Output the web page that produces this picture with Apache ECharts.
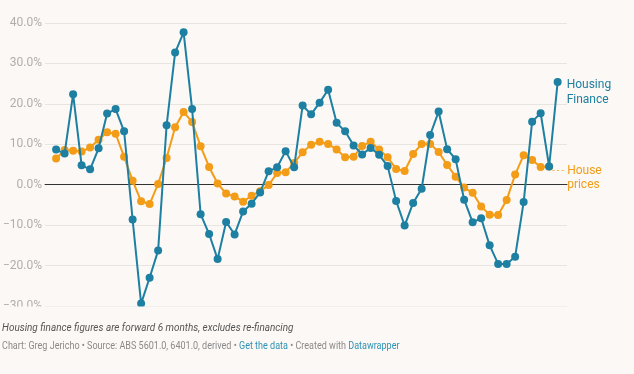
<!DOCTYPE html>
<html>
<head>
<meta charset="utf-8">
<script src="https://cdn.jsdelivr.net/npm/echarts@6/dist/echarts.min.js"></script>
<style>
html,body{margin:0;padding:0;background:#fcf8f5;}
#c{width:634px;height:374px;}
</style>
</head>
<body>
<div id="c"></div>
<script>
// Housing finance (teal), % change, 60 periods
const housingFinance = [
  8.7, 7.7, 22.4, 4.8, 3.8, 9.0, 17.6, 18.7, 13.2, -8.6,
  -29.4, -23.0, -16.3, 14.7, 32.7, 37.7, 18.7, -7.3, -12.2, -18.4,
  -9.2, -12.3, -6.6, -4.7, -1.9, 3.3, 4.3, 8.3, 4.3, 19.6,
  17.4, 20.3, 23.5, 15.3, 13.2, 9.7, 7.5, 9.1, 7.4, 4.6,
  -4.0, -10.1, -4.5, -1.0, 12.3, 18.1, 8.8, 6.3, -3.7, -9.3,
  -8.3, -15.0, -19.6, -19.6, -17.8, -4.3, 15.6, 17.7, 4.5, 25.4
];
// House prices (orange), % change, 59 periods
const housePrices = [
  6.5, 8.6, 8.4, 8.2, 9.2, 11.1, 13.0, 12.6, 6.9, 1.0,
  -4.1, -4.8, 0.2, 6.6, 14.2, 18.0, 15.5, 9.5, 4.4, 0.3,
  -2.2, -2.9, -4.2, -2.7, -1.6, -0.1, 2.9, 3.1, 5.4, 8.0,
  9.9, 10.6, 10.1, 8.7, 6.8, 6.9, 9.6, 10.6, 8.7, 6.8,
  3.9, 3.4, 7.6, 10.1, 10.1, 8.1, 4.9, 2.0, -0.7, -2.0,
  -5.4, -7.4, -7.5, -3.8, 2.5, 7.3, 6.1, 4.4, 4.5
];
const yTicks = [-30, -20, -10, 0, 10, 20, 30, 40];
const seriesNames = ['Housing\nFinance', 'House\nprices'];
const footNote = 'Housing finance figures are forward 6 months, excludes re-financing';
const creditParts = ['Chart: Greg Jericho • Source: ABS 5601.0, 6401.0, derived • ', 'Get the data', ' • Created with ', 'Datawrapper'];

const TEAL = '#1d7fa1';
const ORANGE = '#f39c17';
const BG = '#fcf8f5';

const toPairs = arr => arr.map((v, i) => [i, v]);
const priceLabel = seriesNames[1].split('\n');

const chart = echarts.init(document.getElementById('c'), null, {renderer: 'canvas'});
chart.setOption({
  backgroundColor: BG,
  animation: false,
  grid: {left: 44, right: 67, top: 23, bottom: 68, containLabel: false},
  xAxis: {
    type: 'value',
    min: -1.3,
    max: 60.1,
    axisLine: {show: true, onZero: true, lineStyle: {color: '#333', width: 1}},
    axisTick: {show: false},
    axisLabel: {show: false},
    splitLine: {show: false}
  },
  yAxis: {
    type: 'value',
    min: yTicks[0],
    max: yTicks[yTicks.length - 1],
    interval: 10,
    axisLine: {show: false},
    axisTick: {show: false},
    axisLabel: {
      margin: 3,
      color: '#b0aeac',
      fontFamily: 'Roboto',
      fontSize: 12,
      formatter: v => (v < 0 ? '\u2212' + Math.abs(v).toFixed(1) : v.toFixed(1)) + '%'
    },
    splitLine: {lineStyle: {color: '#e8e4e0', width: 1}}
  },
  series: [
    {
      name: 'House prices',
      type: 'line',
      data: toPairs(housePrices),
      symbol: 'circle',
      symbolSize: 8,
      lineStyle: {color: ORANGE, width: 2},
      itemStyle: {color: ORANGE},
      z: 2,
      endLabel: {
        show: true,
        distance: 3,
        offset: [0, 11],
        formatter: '{d|- - - }{t|' + priceLabel[0] + '}\n{s|}{t|' + priceLabel[1] + '}',
        rich: {
          d: {color: ORANGE, fontSize: 9, width: 15, fontFamily: 'Roboto'},
          s: {width: 15},
          t: {color: ORANGE, fontSize: 12, fontFamily: 'Roboto', lineHeight: 14}
        }
      }
    },
    {
      name: 'Housing Finance',
      type: 'line',
      data: toPairs(housingFinance),
      symbol: 'circle',
      symbolSize: 8,
      lineStyle: {color: TEAL, width: 2},
      itemStyle: {color: TEAL},
      z: 3,
      endLabel: {
        show: true,
        distance: 9,
        offset: [0, 10],
        formatter: seriesNames[0],
        color: TEAL,
        fontSize: 12,
        lineHeight: 15,
        fontFamily: 'Roboto'
      }
    }
  ],
  graphic: [
    {
      type: 'rect',
      shape: {x: 0, y: 306.5, width: 634, height: 12},
      style: {fill: BG},
      z: 100,
      silent: true
    },
    {
      type: 'text',
      x: 2, y: 328,
      scaleX: 0.865,
      z: 101,
      style: {
        text: footNote,
        fill: '#555',
        font: 'italic 11.5px Roboto',
        textVerticalAlign: 'middle'
      }
    },
    {
      type: 'text',
      x: 2, y: 346,
      scaleX: 0.86,
      z: 101,
      style: {
        text: '{g|' + creditParts[0] + '}{l|' + creditParts[1] + '}{g|' + creditParts[2] + '}{l|' + creditParts[3] + '}',
        textVerticalAlign: 'middle',
        rich: {
          g: {fill: '#8a8a8a', fontSize: 10.5, fontFamily: 'Roboto'},
          l: {fill: '#2d93b5', fontSize: 10.5, fontFamily: 'Roboto'}
        }
      }
    }
  ]
});
</script>
</body>
</html>
